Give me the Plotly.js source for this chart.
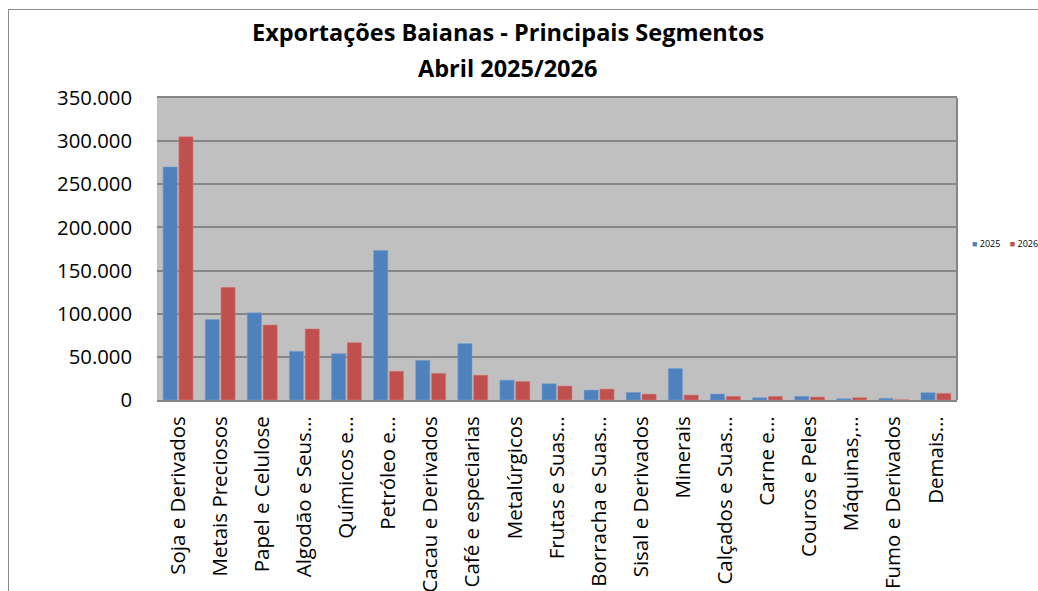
<!DOCTYPE html>
<html>
<head>
<meta charset="utf-8">
<script src="https://cdn.plot.ly/plotly-3.0.1.min.js"></script>
<style>
  html, body { margin: 0; padding: 0; background: #ffffff; overflow: hidden; }
  #wrap { position: relative; width: 1038px; height: 591px; }
  #frame { position: absolute; left: 8px; top: 9px; width: 1100px; height: 700px;
           border-left: 1px solid #8a8a8a; border-top: 1px solid #8a8a8a; }
  #chart { position: absolute; left: 0; top: 0; width: 1038px; height: 591px; }
</style>
</head>
<body>
<div id="wrap">
  <div id="frame"></div>
  <div id="chart"></div>
</div>
<script>
const categories = [
  "Soja e Derivados", "Metais Preciosos", "Papel e Celulose", "Algodão e Seus…",
  "Químicos e…", "Petróleo e…", "Cacau e Derivados", "Café e especiarias",
  "Metalúrgicos", "Frutas e Suas…", "Borracha e Suas…", "Sisal e Derivados",
  "Minerais", "Calçados e Suas…", "Carne e…", "Couros e Peles",
  "Máquinas,…", "Fumo e Derivados", "Demais…"
];
const values2025 = [270000, 93300, 101000, 56400, 53700, 173400, 45900, 65400,
  23000, 18800, 11500, 8800, 36500, 6900, 2700, 4200, 1500, 1900, 8500];
const values2026 = [305200, 130600, 87000, 82400, 66500, 33400, 31000, 28800,
  21500, 16200, 12700, 6900, 5800, 4200, 4200, 3500, 2700, 300, 7700];
const seriesNames = ["2025", "2026"];
const seriesColors = ["#4F81BD", "#C0504D"];
const titleLines = ["Exportações Baianas - Principais Segmentos", "Abril 2025/2026"];
const yTicks = [0, 50000, 100000, 150000, 200000, 250000, 300000, 350000];
const yTickText = ["0", "50.000", "100.000", "150.000", "200.000", "250.000", "300.000", "350.000"];

const font = "Open Sans, Liberation Sans, sans-serif";

const traces = [
  { type: "bar", name: seriesNames[0], x: categories, y: values2025,
    marker: { color: seriesColors[0], line: { color: "rgba(120,160,210,0.9)", width: 0.6 } } },
  { type: "bar", name: seriesNames[1], x: categories, y: values2026,
    marker: { color: seriesColors[1], line: { color: "rgba(215,130,128,0.9)", width: 0.6 } } }
];

// plot area: x 157..957 px, y 98..400 px
const px2paperY = (py) => (400 - py) / 302;
const px2paperX = (px) => (px - 157) / 800;

const annotations = [
  { text: "<b>" + titleLines[0] + "</b>", xref: "paper", yref: "paper",
    x: px2paperX(507.5), y: px2paperY(32), xanchor: "center", yanchor: "middle",
    showarrow: false, font: { family: font, size: 23.5, color: "#000000" } },
  { text: "<b>" + titleLines[1] + "</b>", xref: "paper", yref: "paper",
    x: px2paperX(507.5), y: px2paperY(68), xanchor: "center", yanchor: "middle",
    showarrow: false, font: { family: font, size: 23.5, color: "#000000" } },
  // legend
  { text: '<span style="color:' + seriesColors[0] + '">■</span> ' + seriesNames[0] +
          '    <span style="color:' + seriesColors[1] + '">■</span> ' + seriesNames[1],
    xref: "paper", yref: "paper",
    x: px2paperX(970), y: px2paperY(243), xanchor: "left", yanchor: "middle",
    showarrow: false, font: { family: font, size: 9, color: "#000000" } }
];

const layout = {
  width: 1038, height: 591,
  paper_bgcolor: "rgba(0,0,0,0)",
  plot_bgcolor: "#C0C0C0",
  margin: { l: 157, r: 81, t: 98, b: 191, pad: 0 },
  barmode: "group",
  bargap: 0.25,
  bargroupgap: 0.1,
  xaxis: {
    type: "category",
    tickangle: -90,
    tickfont: { family: font, size: 20.5, color: "#000000" },
    ticks: "",
    ticklabelstandoff: 6,
    showgrid: false,
    showline: true, linecolor: "#868686", linewidth: 2,
    mirror: true,
    automargin: false
  },
  yaxis: {
    range: [0, 350000],
    tickvals: yTicks, ticktext: yTickText,
    tickfont: { family: font, size: 20.3, color: "#000000" },
    ticks: "",
    ticklabelstandoff: 24,
    showgrid: true, gridcolor: "#868686", gridwidth: 2,
    zeroline: false,
    showline: false,
    automargin: false
  },
  shapes: [
    { type: "line", xref: "paper", yref: "paper", x0: 1, x1: 1, y0: 0, y1: 1,
      line: { color: "#868686", width: 2 } }
  ],
  annotations: annotations,
  showlegend: false
};

Plotly.newPlot("chart", traces, layout, { displayModeBar: false, responsive: false });
</script>
</body>
</html>
